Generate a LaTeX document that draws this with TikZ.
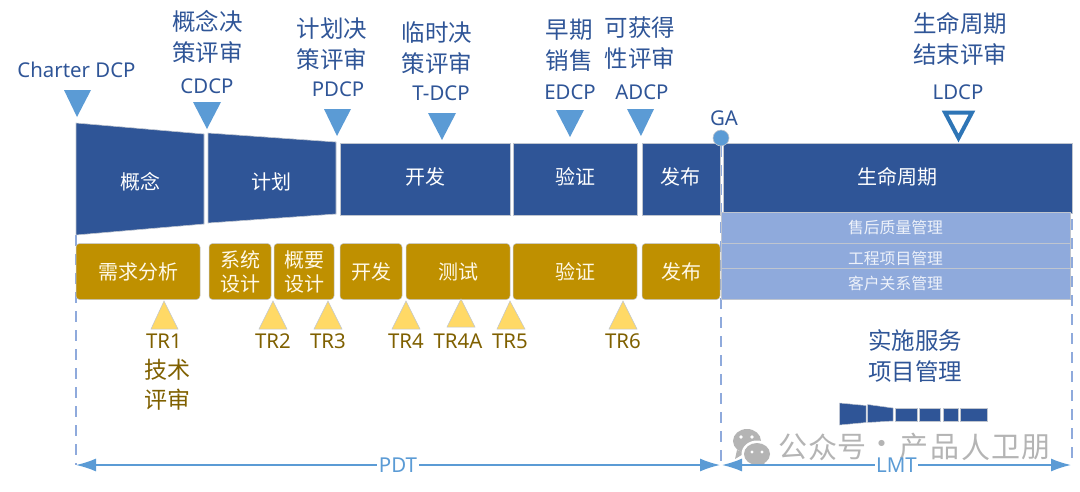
\documentclass[tikz,border=0pt]{standalone}
\usepackage{fontspec}
\usetikzlibrary{arrows.meta,calc}
\setmainfont{Noto Sans CJK SC}
\newfontfamily\lat{Noto Sans}
\definecolor{navy}{HTML}{2F5597}
\definecolor{sky}{HTML}{5B9BD5}
\definecolor{deepsky}{HTML}{2E75B6}
\definecolor{pale}{HTML}{8FAADC}
\definecolor{gold}{HTML}{BF9000}
\definecolor{dgold}{HTML}{7F6000}
\definecolor{sand}{HTML}{FFD966}
\definecolor{edgeg}{HTML}{BFC5CF}
\definecolor{wm}{HTML}{B4B4B4}
\tikzset{
  x=1pt,y=-1pt,
  phase/.style={fill=navy,draw=edgeg,line width=.6pt},
  phasetxt/.style={text=white,font=\fontsize{20}{20}\selectfont,inner sep=0},
  blk/.style={fill=navy,draw=edgeg,line width=.6pt,text=white,inner sep=0,font=\fontsize{20}{20}\selectfont},
  svc/.style={fill=pale,draw=edgeg,line width=.7pt,text=white!85!pale,inner sep=0,font=\fontsize{15.8}{15.8}\selectfont},
  work/.style={fill=gold,draw=edgeg,line width=.5pt,rounded corners=3.5pt,text=white!85!sand,inner sep=0,align=center,font=\fontsize{20}{24}\selectfont},
  bluetxt/.style={text=navy,align=center,inner sep=0,font=\fontsize{23.5}{31}\selectfont},
  code/.style={text=navy,inner sep=0,font=\lat\fontsize{20.4}{24}\selectfont},
  goldcode/.style={text=dgold,inner sep=0,font=\lat\fontsize{20.4}{24}\selectfont},
  goldtxt/.style={text=dgold,align=center,inner sep=0,font=\fontsize{23}{30}\selectfont},
  dcp/.style={fill=sky,draw=none},
  trm/.style={fill=sand,draw=edgeg,line width=.5pt},
  guide/.style={draw=pale,line width=2pt,dash pattern=on 11pt off 8pt},
  span/.style={draw=sky,line width=1.5pt,{Latex[length=20pt,width=13pt]}-{Latex[length=20pt,width=13pt]}},
  spantxt/.style={fill=white,text=sky,inner xsep=1.5pt,inner ysep=0,font=\lat\fontsize{20.5}{20.5}\selectfont},
  mini/.style={fill=navy,draw=edgeg,line width=.5pt},
  wmtxt/.style={text=wm,inner sep=0,font=\fontsize{29}{29}\selectfont}
}
\begin{document}
\begin{tikzpicture}
\useasboundingbox (0,0) rectangle (1080,491);
% guides
\coordinate (gl0) at (75.5,235); \coordinate (gl1) at (75.5,465);
\coordinate (gm0) at (721,146); \coordinate (gm1) at (721,465);
\coordinate (gr0) at (1072,143); \coordinate (gr1) at (1072,465);
\draw[guide] (gl0) -- (gl1);
\draw[guide] (gm0) -- (gm1);
\draw[guide] (gr0) -- (gr1);
% phases
\draw[phase] (76,123) -- (204,134) -- (204,224) -- (76,235) -- cycle;
\node[phasetxt] (p1) at (140,182) {概念};
\draw[phase] (208,133) -- (336,142) -- (336,214) -- (208,223) -- cycle;
\node[phasetxt] (p2) at (271,182) {计划};
\node[blk,minimum width=170pt,minimum height=72pt] (p3) at (425,179) {};
\node[text=white,inner sep=0,font=\fontsize{20}{20}\selectfont] (p3t) at (425,177) {开发};
\node[blk,minimum width=124pt,minimum height=72pt] (p4) at (575,179) {};
\node[text=white,inner sep=0,font=\fontsize{20}{20}\selectfont] (p4t) at (575,177) {验证};
\node[blk,minimum width=78pt,minimum height=72pt] (p5) at (681,179) {};
\node[text=white,inner sep=0,font=\fontsize{20}{20}\selectfont] (p5t) at (680,177) {发布};
\node[blk,minimum width=349pt,minimum height=70pt] (p6) at (897.5,178) {};
\node[text=white,inner sep=0,font=\fontsize{20}{20}\selectfont] (p6t) at (897,177) {生命周期};
% services
\node[svc,minimum width=349pt,minimum height=31pt] (s1) at (895.5,227.5) {售后质量管理};
\node[svc,minimum width=349pt,minimum height=25pt] (s2) at (895.5,255.5) {};
\node[svc,minimum width=349pt,minimum height=31pt] (s3) at (895.5,283.5) {};
\node[text=white!85!pale,inner sep=0,font=\fontsize{15.8}{15.8}\selectfont] (s2t) at (895.5,258) {工程项目管理};
\node[text=white!85!pale,inner sep=0,font=\fontsize{15.8}{15.8}\selectfont] (s3t) at (895.5,283) {客户关系管理};
% work blocks
\node[work,minimum width=124pt,minimum height=56pt] (w1) at (138,271.5) {需求分析};
\node[work,minimum width=62pt,minimum height=56pt] (w2) at (240,271.5) {系统\\设计};
\node[work,minimum width=60pt,minimum height=56pt] (w3) at (304,271.5) {概要\\设计};
\node[work,minimum width=62pt,minimum height=56pt] (w4) at (371,271.5) {开发};
\node[work,minimum width=104pt,minimum height=56pt] (w5) at (458,271.5) {测试};
\node[work,minimum width=124pt,minimum height=56pt] (w6) at (575,271.5) {验证};
\node[work,minimum width=78pt,minimum height=56pt] (w7) at (681,271.5) {发布};
% DCP markers
\fill[dcp] (64,90) -- (91,90) -- (77,117) -- cycle;
\fill[dcp] (193,102) -- (221,102) -- (207,129) -- cycle;
\fill[dcp] (324,109) -- (351,109) -- (337,136) -- cycle;
\fill[dcp] (428,113) -- (456,113) -- (442,140) -- cycle;
\fill[dcp] (556,110) -- (584,110) -- (570,137) -- cycle;
\fill[dcp] (627,109) -- (654,109) -- (641,136) -- cycle;
\draw[draw=deepsky,line width=4pt,miter limit=10] (945,112.5) -- (972,112.5) -- (958.5,138) -- cycle;
\fill[sky,draw=edgeg,line width=.6pt] (721,138) circle (8);
% top labels
\node[code] (l1) at (76.5,70) {Charter DCP};
\node[bluetxt] (l2) at (207.5,37) {概念决\\策评审};
\node[code] (l2c) at (207,86) {CDCP};
\node[bluetxt] (l3) at (332,44) {计划决\\策评审};
\node[code] (l3c) at (338,89) {PDCP};
\node[bluetxt] (l4) at (437,48) {临时决\\策评审};
\node[code] (l4c) at (441,93) {T-DCP};
\node[bluetxt] (l5) at (569,45) {早期\\销售};
\node[code] (l5c) at (570,92) {EDCP};
\node[bluetxt] (l6) at (640,43) {可获得\\性评审};
\node[code] (l6c) at (642,92) {ADCP};
\node[code] (ga) at (724,118) {GA};
\node[bluetxt] (l7) at (960,39) {生命周期\\结束评审};
\node[code] (l7c) at (958,92) {LDCP};
% TR markers
\draw[trm] (164,301) -- (178,329) -- (151,329) -- cycle;
\draw[trm] (273,301) -- (287,329) -- (259,329) -- cycle;
\draw[trm] (328,301) -- (342,329) -- (314,329) -- cycle;
\draw[trm] (406,301) -- (420,329) -- (392,329) -- cycle;
\draw[trm] (461,299) -- (475,327) -- (447,327) -- cycle;
\draw[trm] (510,301) -- (525,329) -- (497,329) -- cycle;
\draw[trm] (623,301) -- (637,329) -- (609,329) -- cycle;
\node[goldcode] (t1) at (164,341) {TR1};
\node[goldtxt] (t1b) at (167,385) {技术\\评审};
\node[goldcode] (t2) at (273,341) {TR2};
\node[goldcode] (t3) at (328,341) {TR3};
\node[goldcode] (t4) at (406,341) {TR4};
\node[goldcode] (t4a) at (458,341) {TR4A};
\node[goldcode] (t5) at (510,341) {TR5};
\node[goldcode] (t6) at (623,341) {TR6};
% service project
\node[bluetxt] (sv) at (915,356) {实施服务\\项目管理};
\draw[mini] (839.5,403) -- (866,405.5) -- (866,422.5) -- (839.5,425) -- cycle;
\draw[mini] (867.5,404.5) -- (893,408) -- (893,421) -- (867.5,422.5) -- cycle;
\draw[mini] (895,408) rectangle (917,421);
\draw[mini] (919,408) rectangle (940,421);
\draw[mini] (943,408) rectangle (958,421);
\draw[mini] (960,408) rectangle (987,421);
% watermark
\fill[wm] (747,441) ellipse (14 and 12);
\fill[wm] (737,450) -- (735,459) -- (745,453) -- cycle;
\fill[white] (757,454) ellipse (15.5 and 13.5);
\fill[wm] (757,454) ellipse (13 and 11);
\fill[wm] (763,462) -- (767,466) -- (757,463) -- cycle;
\fill[white] (741,437) circle (1.8) (752,437) circle (1.8) (752,452) circle (1.6) (762,452) circle (1.6);
\foreach \c/\x in {公/793,众/822.5,号/852,·/882,产/914,品/945,人/976,卫/1006,朋/1036}
  \node[wmtxt] at (\x,447) {\c};
% spans
\coordinate (a0) at (76,465); \coordinate (a1) at (720,465);
\coordinate (b0) at (722,465); \coordinate (b1) at (1071,465);
\draw[span] (a0) -- (a1) node[spantxt,pos=.5] (pdt) {PDT};
\draw[span] (b0) -- (b1) node[spantxt,pos=.5] (lmt) {LMT};
\end{tikzpicture}
\end{document}
